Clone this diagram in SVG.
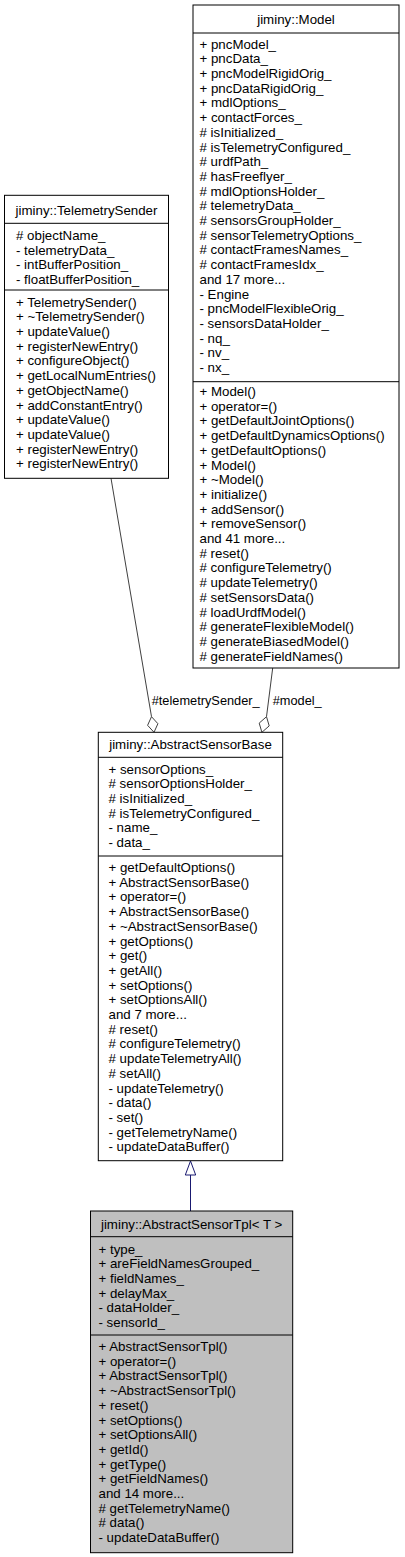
<svg xmlns="http://www.w3.org/2000/svg" width="405" height="1557" viewBox="0 0 405 1557">
<style>
text{font-family:"Liberation Sans",Arial,Helvetica,sans-serif;font-size:13.3px;fill:#000}
.h{text-anchor:middle}
.box{fill:#fff;stroke:#000;stroke-width:1}
.gray{fill:#bfbfbf}
.sep{stroke:#000;stroke-width:1}
.edge{stroke:#404040;stroke-width:1;fill:none}
.dia{fill:#fff;stroke:#404040;stroke-width:1}
.inh{stroke:#191970;stroke-width:1;fill:none}
.tri{fill:#fff;stroke:#191970;stroke-width:1}
</style>
<rect width="405" height="1557" fill="#fff"/>
<g id="connectors">
<path class="edge" d="M111,478.3 L151.5,716.7"/>
<polygon class="dia" points="151.5,716.7 157.9,723.7 154,732.3 147.6,725.3"/>
<text x="151.7" y="704.5" textLength="108" lengthAdjust="spacingAndGlyphs">#telemetrySender_</text>
<path class="edge" d="M272.7,668 L266.5,716.7"/>
<polygon class="dia" points="266.5,716.7 269.2,725.9 261.9,732.3 259.2,723.1"/>
<text x="272.7" y="704.5" textLength="49" lengthAdjust="spacingAndGlyphs">#model_</text>
<path class="inh" d="M190.5,1211 L190.5,1175"/>
<polygon class="tri" points="190.5,1161 195.7,1175 185.3,1175"/>
</g>
<g id="node-model">
<rect class="box" x="193" y="5" width="206" height="663"/>
<line class="sep" x1="193" y1="33" x2="399" y2="33"/>
<line class="sep" x1="193" y1="381.7" x2="399" y2="381.7"/>
<text class="h" x="296" y="24.3">jiminy::Model</text>
<text x="199.5">
<tspan x="199.5" y="48.6">+ pncModel_</tspan>
<tspan x="199.5" y="63.3">+ pncData_</tspan>
<tspan x="199.5" y="78">+ pncModelRigidOrig_</tspan>
<tspan x="199.5" y="92.7">+ pncDataRigidOrig_</tspan>
<tspan x="199.5" y="107.4">+ mdlOptions_</tspan>
<tspan x="199.5" y="122.1">+ contactForces_</tspan>
<tspan x="199.5" y="136.8"># isInitialized_</tspan>
<tspan x="199.5" y="151.5"># isTelemetryConfigured_</tspan>
<tspan x="199.5" y="166.2"># urdfPath_</tspan>
<tspan x="199.5" y="180.9"># hasFreeflyer_</tspan>
<tspan x="199.5" y="195.6"># mdlOptionsHolder_</tspan>
<tspan x="199.5" y="210.3"># telemetryData_</tspan>
<tspan x="199.5" y="225"># sensorsGroupHolder_</tspan>
<tspan x="199.5" y="239.7"># sensorTelemetryOptions_</tspan>
<tspan x="199.5" y="254.4"># contactFramesNames_</tspan>
<tspan x="199.5" y="269.1"># contactFramesIdx_</tspan>
<tspan x="199.5" y="283.8">and 17 more...</tspan>
<tspan x="199.5" y="298.5">- Engine</tspan>
<tspan x="199.5" y="313.2">- pncModelFlexibleOrig_</tspan>
<tspan x="199.5" y="327.9">- sensorsDataHolder_</tspan>
<tspan x="199.5" y="342.6">- nq_</tspan>
<tspan x="199.5" y="357.3">- nv_</tspan>
<tspan x="199.5" y="372">- nx_</tspan>
</text>
<text x="199.5">
<tspan x="199.5" y="396">+ Model()</tspan>
<tspan x="199.5" y="410.7">+ operator=()</tspan>
<tspan x="199.5" y="425.4">+ getDefaultJointOptions()</tspan>
<tspan x="199.5" y="440.1">+ getDefaultDynamicsOptions()</tspan>
<tspan x="199.5" y="454.8">+ getDefaultOptions()</tspan>
<tspan x="199.5" y="469.5">+ Model()</tspan>
<tspan x="199.5" y="484.2">+ ~Model()</tspan>
<tspan x="199.5" y="498.9">+ initialize()</tspan>
<tspan x="199.5" y="513.6">+ addSensor()</tspan>
<tspan x="199.5" y="528.3">+ removeSensor()</tspan>
<tspan x="199.5" y="543">and 41 more...</tspan>
<tspan x="199.5" y="557.7"># reset()</tspan>
<tspan x="199.5" y="572.4"># configureTelemetry()</tspan>
<tspan x="199.5" y="587.1"># updateTelemetry()</tspan>
<tspan x="199.5" y="601.8"># setSensorsData()</tspan>
<tspan x="199.5" y="616.5"># loadUrdfModel()</tspan>
<tspan x="199.5" y="631.2"># generateFlexibleModel()</tspan>
<tspan x="199.5" y="645.9"># generateBiasedModel()</tspan>
<tspan x="199.5" y="660.6"># generateFieldNames()</tspan>
</text>
</g>
<g id="node-telemetrysender">
<rect class="box" x="4.5" y="195.3" width="164" height="283"/>
<line class="sep" x1="4.5" y1="223.3" x2="168.5" y2="223.3"/>
<line class="sep" x1="4.5" y1="290" x2="168.5" y2="290"/>
<text class="h" x="86.5" y="215">jiminy::TelemetrySender</text>
<text x="16">
<tspan x="16" y="240"># objectName_</tspan>
<tspan x="16" y="254.7">- telemetryData_</tspan>
<tspan x="16" y="269.4">- intBufferPosition_</tspan>
<tspan x="16" y="284.1">- floatBufferPosition_</tspan>
</text>
<text x="16">
<tspan x="16" y="306.6">+ TelemetrySender()</tspan>
<tspan x="16" y="321.3">+ ~TelemetrySender()</tspan>
<tspan x="16" y="336">+ updateValue()</tspan>
<tspan x="16" y="350.7">+ registerNewEntry()</tspan>
<tspan x="16" y="365.4">+ configureObject()</tspan>
<tspan x="16" y="380.1">+ getLocalNumEntries()</tspan>
<tspan x="16" y="394.8">+ getObjectName()</tspan>
<tspan x="16" y="409.5">+ addConstantEntry()</tspan>
<tspan x="16" y="424.2">+ updateValue()</tspan>
<tspan x="16" y="438.9">+ updateValue()</tspan>
<tspan x="16" y="453.6">+ registerNewEntry()</tspan>
<tspan x="16" y="468.3">+ registerNewEntry()</tspan>
</text>
</g>
<g id="node-abstractsensorbase">
<rect class="box" x="98.3" y="732.3" width="184.4" height="428.4"/>
<line class="sep" x1="98.3" y1="757.3" x2="282.7" y2="757.3"/>
<line class="sep" x1="98.3" y1="856" x2="282.7" y2="856"/>
<text class="h" x="190.5" y="749.3">jiminy::AbstractSensorBase</text>
<text x="108.5">
<tspan x="108.5" y="773.6">+ sensorOptions_</tspan>
<tspan x="108.5" y="788.3"># sensorOptionsHolder_</tspan>
<tspan x="108.5" y="803"># isInitialized_</tspan>
<tspan x="108.5" y="817.7"># isTelemetryConfigured_</tspan>
<tspan x="108.5" y="832.4">- name_</tspan>
<tspan x="108.5" y="847.1">- data_</tspan>
</text>
<text x="108.5">
<tspan x="108.5" y="872">+ getDefaultOptions()</tspan>
<tspan x="108.5" y="886.7">+ AbstractSensorBase()</tspan>
<tspan x="108.5" y="901.4">+ operator=()</tspan>
<tspan x="108.5" y="916.1">+ AbstractSensorBase()</tspan>
<tspan x="108.5" y="930.8">+ ~AbstractSensorBase()</tspan>
<tspan x="108.5" y="945.5">+ getOptions()</tspan>
<tspan x="108.5" y="960.2">+ get()</tspan>
<tspan x="108.5" y="974.9">+ getAll()</tspan>
<tspan x="108.5" y="989.6">+ setOptions()</tspan>
<tspan x="108.5" y="1004.3">+ setOptionsAll()</tspan>
<tspan x="108.5" y="1019">and 7 more...</tspan>
<tspan x="108.5" y="1033.7"># reset()</tspan>
<tspan x="108.5" y="1048.4"># configureTelemetry()</tspan>
<tspan x="108.5" y="1063.1"># updateTelemetryAll()</tspan>
<tspan x="108.5" y="1077.8"># setAll()</tspan>
<tspan x="108.5" y="1092.5">- updateTelemetry()</tspan>
<tspan x="108.5" y="1107.2">- data()</tspan>
<tspan x="108.5" y="1121.9">- set()</tspan>
<tspan x="108.5" y="1136.6">- getTelemetryName()</tspan>
<tspan x="108.5" y="1151.3">- updateDataBuffer()</tspan>
</text>
</g>
<g id="node-abstractsensortpl">
<rect class="box gray" x="90.5" y="1211" width="202.2" height="341.7"/>
<line class="sep" x1="90.5" y1="1236.7" x2="292.7" y2="1236.7"/>
<line class="sep" x1="90.5" y1="1335" x2="292.7" y2="1335"/>
<text class="h" x="191.6" y="1229.3">jiminy::AbstractSensorTpl&lt; T &gt;</text>
<text x="98.5">
<tspan x="98.5" y="1253.6">+ type_</tspan>
<tspan x="98.5" y="1268.3">+ areFieldNamesGrouped_</tspan>
<tspan x="98.5" y="1283">+ fieldNames_</tspan>
<tspan x="98.5" y="1297.7">+ delayMax_</tspan>
<tspan x="98.5" y="1312.4">- dataHolder_</tspan>
<tspan x="98.5" y="1327.1">- sensorId_</tspan>
</text>
<text x="98.5">
<tspan x="98.5" y="1351">+ AbstractSensorTpl()</tspan>
<tspan x="98.5" y="1365.7">+ operator=()</tspan>
<tspan x="98.5" y="1380.4">+ AbstractSensorTpl()</tspan>
<tspan x="98.5" y="1395.1">+ ~AbstractSensorTpl()</tspan>
<tspan x="98.5" y="1409.8">+ reset()</tspan>
<tspan x="98.5" y="1424.5">+ setOptions()</tspan>
<tspan x="98.5" y="1439.2">+ setOptionsAll()</tspan>
<tspan x="98.5" y="1453.9">+ getId()</tspan>
<tspan x="98.5" y="1468.6">+ getType()</tspan>
<tspan x="98.5" y="1483.3">+ getFieldNames()</tspan>
<tspan x="98.5" y="1498">and 14 more...</tspan>
<tspan x="98.5" y="1512.7"># getTelemetryName()</tspan>
<tspan x="98.5" y="1527.4"># data()</tspan>
<tspan x="98.5" y="1542.1">- updateDataBuffer()</tspan>
</text>
</g>
</svg>
